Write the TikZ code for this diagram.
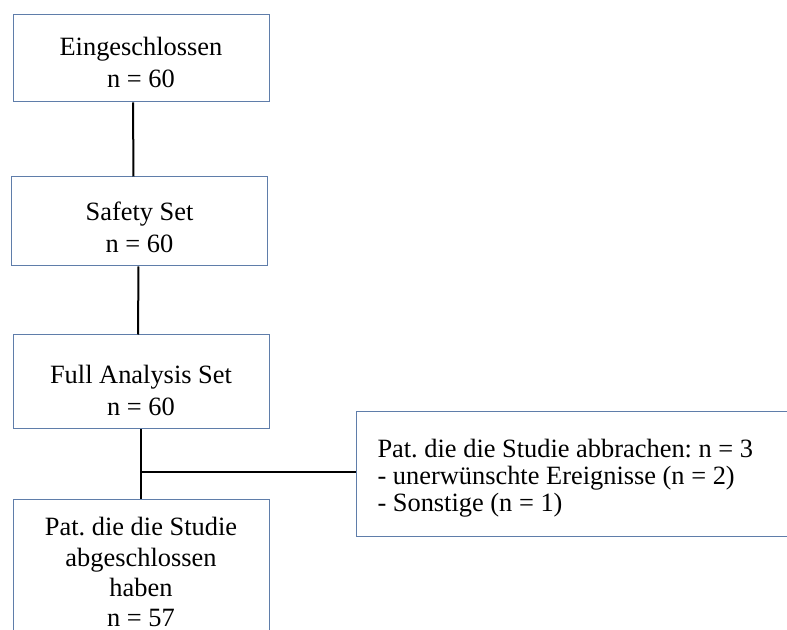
\documentclass[tikz,border=0pt]{standalone}
\usepackage{fontspec}
\setmainfont{Liberation Serif}
\usepackage{tikz}

\definecolor{boxblue}{RGB}{95,125,170}
\newcommand{\toppad}[1]{\rule{0pt}{\dimexpr 9pt+#1\relax}}

\tikzset{
  flowbox/.style={draw=boxblue, line width=0.5pt, inner sep=0pt, align=center,
    minimum width=128pt, font=\fontsize{13.2}{16}\selectfont\frenchspacing},
  dropbox/.style={draw=boxblue, line width=0.5pt, inner ysep=0pt, inner xsep=10.5pt,
    align=flush left, text width=201pt, minimum height=62pt,
    font=\fontsize{13.2}{13.5}\selectfont\frenchspacing},
  link/.style={line width=1pt}
}

\begin{document}
\begin{tikzpicture}[x=0.5pt, y=-0.5pt]
      \clip (0,0) rectangle (787,630);
      \fill[white] (0,0) rectangle (787,630);

       % included
      \node[flowbox, minimum height=43.5pt] (incl) at (141,58.5)
        {\toppad{4pt}Eingeschlossen\\n = 60};

       % safety set
      \node[flowbox, minimum height=44.5pt] (safety) at (139.5,221.5)
        {\toppad{6pt}Safety Set\\n = 60};

       % full analysis set
      \node[flowbox, minimum height=47pt] (fas) at (141,382)
        {\toppad{8.5pt}Full Analysis Set\\n = 60};

       % completed
      \node[flowbox, minimum height=70pt, font=\fontsize{13.2}{15.2}\selectfont\frenchspacing]
        (done) at (141,569)
        {\toppad{3.5pt}Pat. die die Studie\\abgeschlossen\\haben\\n = 57};

       % dropped out
      \node[dropbox] (drop) at (578.5,474)
        {\toppad{4pt}Pat. die die Studie abbrachen: n = 3\\- unerwünschte Ereignisse (n = 2)\\- Sonstige (n = 1)};

      % connectors
      \draw[link] ([xshift=-4pt]incl.south) -- ([xshift=-3pt]safety.north);
      \draw[link] ([xshift=-0.5pt]safety.south) -- ([xshift=-1.5pt]fas.north);
      \draw[link] (fas.south) -- (done.north);
      \draw[link] ([yshift=1pt]fas.south |- drop.west) -- ([yshift=1pt]drop.west);
    \end{tikzpicture}
\end{document}
